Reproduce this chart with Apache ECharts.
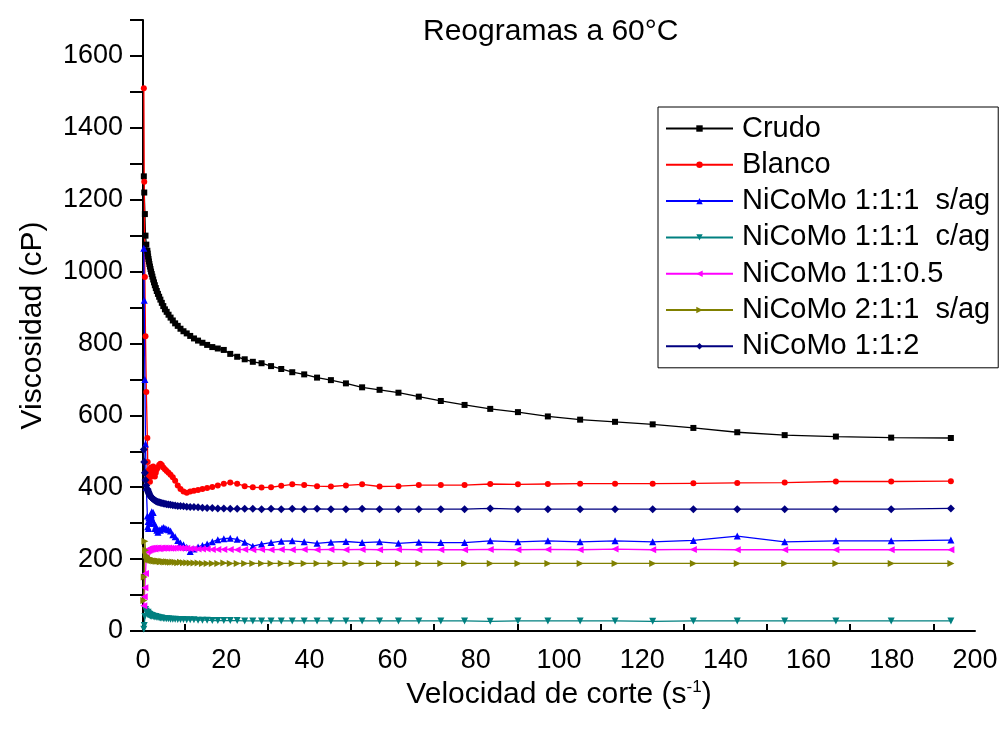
<!DOCTYPE html>
<html>
<head>
<meta charset="utf-8">
<script src="https://cdn.jsdelivr.net/npm/echarts@6/dist/echarts.min.js"></script>
<style>html,body{margin:0;padding:0;background:#fff}#c{width:1002px;height:731px}</style>
</head>
<body>
<div id="c"></div>
<script>
const FONT = "'Liberation Sans', Arial, sans-serif";
const titleText = 'Reogramas a 60°C';
const xName = 'Velocidad de corte (s{sup|-1})';
const yName = 'Viscosidad (cP)';
const seriesNames = ['Crudo', 'Blanco', 'NiCoMo 1:1:1  s/ag', 'NiCoMo 1:1:1  c/ag', 'NiCoMo 1:1:0.5', 'NiCoMo 2:1:1  s/ag', 'NiCoMo 1:1:2'];
const xLabelValues = [0, 20, 40, 60, 80, 100, 120, 140, 160, 180, 200];
const xTickValues = [10, 30, 50, 70, 90, 110, 130, 150, 170, 190];
const yLabelValues = [0, 200, 400, 600, 800, 1000, 1200, 1400, 1600];
const yTickValues = [0, 100, 200, 300, 400, 500, 600, 700, 800, 900, 1000, 1100, 1200, 1300, 1400, 1500, 1600, 1700];

const shearRate = [
  0.2, 0.3, 0.45, 0.6, 0.8, 1.05, 1.13, 1.23, 1.32, 1.43,
  1.54, 1.67, 1.80, 1.94, 2.10, 2.26, 2.45, 2.64, 2.85, 3.08,
  3.32, 3.59, 3.88, 4.18, 4.52, 4.88, 5.27, 5.69, 6.14, 6.63,
  7.16, 7.73, 8.35, 9.01, 9.73, 10.51, 11.35, 12.25, 13.23, 14.29,
  15.42, 16.66, 17.98, 19.42, 20.97, 22.64, 24.45, 26.40, 28.50, 30.78,
  33.23, 35.88, 38.75, 41.84, 45.17, 48.78, 52.67, 56.87, 61.41, 66.30,
  71.59, 77.30, 83.47, 90.13, 97.32, 105.08, 113.47, 122.52, 132.30, 142.85,
  154.25, 166.56, 179.85, 194.20
];
const crudo = [
  1265, 1220, 1160, 1100, 1075, 1058, 1050, 1042, 1035, 1028,
  1021, 1014, 1007, 1000, 993, 986, 978, 970, 962, 954,
  946, 938, 930, 922, 913, 904, 895, 888, 880, 872,
  864, 856, 849, 841, 834, 828, 821, 814, 808, 802,
  796, 790, 786, 782, 771, 763, 756, 749, 745, 737,
  729, 720, 714, 705, 698, 689, 678, 671, 663, 652,
  640, 629, 618, 609, 597, 588, 582, 575, 565, 553,
  545, 541, 538, 537
];
const blanco = [
  1510, 1250, 985, 820, 665, 537, 470, 440, 425, 448,
  430, 415, 440, 455, 430, 445, 458, 440, 430, 440,
  450, 455, 462, 465, 462, 455, 450, 445, 440, 435,
  428, 418, 405, 395, 388, 385, 388, 390, 392, 395,
  398, 401, 405, 410, 413, 410, 403, 400, 399, 400,
  404, 408, 406, 403, 402, 405, 408, 402, 403, 406,
  406, 406, 409, 408, 409, 410, 410, 410, 411, 412,
  413, 416, 416, 417
];
const nicomo111sag = [
  1065, 920, 700, 520, 400, 320, 290, 305, 285, 315,
  300, 320, 300, 325, 332, 310, 330, 300, 285, 292,
  280, 275, 282, 280, 285, 288, 286, 283, 282, 278,
  268, 262, 252, 245, 240, 233, 221, 228, 234, 238,
  242, 248, 254, 257, 258, 255, 247, 236, 242, 246,
  250, 251, 248, 244, 247, 249, 246, 248, 244, 247,
  246, 246, 251, 248, 251, 248, 251, 248, 252, 264,
  248, 251, 251, 253
];
const nicomo111cag = [
  5, 15, 40, 60, 55, 50, 46, 52, 45, 48,
  44, 46, 42, 44, 41, 43, 40, 41, 39, 40,
  38, 38, 37, 36, 36, 35, 35, 34, 34, 33,
  33, 33, 32, 32, 32, 31, 31, 31, 30, 30,
  30, 29, 29, 29, 29, 29, 28, 28, 28, 28,
  28, 28, 28, 28, 28, 28, 28, 28, 28, 28,
  28, 28, 27, 28, 28, 28, 28, 27, 28, 28,
  28, 28, 28, 28
];
const nicomo1105 = [
  70, 95, 120, 160, 205, 222, 226, 224, 228, 225,
  229, 226, 229, 227, 230, 228, 229, 231, 228, 230,
  230, 231, 229, 230, 231, 230, 231, 230, 231, 230,
  230, 231, 231, 230, 230, 230, 229, 229, 228, 228,
  228, 227, 227, 227, 227, 226, 227, 226, 227, 226,
  227, 226, 227, 226, 227, 226, 227, 226, 227, 226,
  226, 226, 227, 226, 227, 226, 228, 226, 227, 226,
  226, 226, 226, 226
];
const nicomo211sag = [
  85, 150, 250, 225, 210, 205, 203, 200, 204, 199,
  202, 198, 200, 197, 198, 196, 197, 195, 196, 195,
  194, 195, 194, 193, 194, 193, 192, 193, 192, 191,
  192, 191, 190, 191, 190, 190, 189, 189, 189, 188,
  188, 188, 188, 189, 188, 188, 188, 188, 188, 188,
  188, 188, 188, 188, 188, 188, 188, 188, 188, 188,
  188, 188, 188, 188, 188, 188, 188, 188, 188, 188,
  188, 188, 188, 188
];
const nicomo112 = [
  505, 470, 440, 420, 405, 395, 392, 389, 386, 383,
  380, 377, 375, 373, 371, 369, 367, 365, 364, 362,
  360, 359, 358, 357, 356, 355, 354, 353, 352, 351,
  350, 349, 348, 348, 347, 346, 345, 345, 344, 343,
  342, 342, 341, 341, 340, 340, 340, 340, 339, 340,
  339, 340, 339, 340, 339, 339, 340, 339, 339, 339,
  339, 339, 341, 339, 339, 339, 339, 339, 339, 339,
  339, 339, 339, 341
];

const seriesValues = [crudo, blanco, nicomo111sag, nicomo111cag, nicomo1105, nicomo211sag, nicomo112];
const styles = [
  { color: '#000000', symbol: 'rect', size: 6, rot: 0 },
  { color: '#ff0000', symbol: 'circle', size: 6, rot: 0 },
  { color: '#0000ff', symbol: 'triangle', size: 7, rot: 0 },
  { color: '#008080', symbol: 'triangle', size: 7, rot: 180 },
  { color: '#ff00ff', symbol: 'triangle', size: 7, rot: 90 },
  { color: '#808000', symbol: 'triangle', size: 7, rot: -90 },
  { color: '#000080', symbol: 'diamond', size: 8, rot: 0 }
];

const chart = echarts.init(document.getElementById('c'), null, { renderer: 'canvas' });
const series = seriesNames.map((name, i) => ({
  name: name,
  type: 'line',
  data: shearRate.map((x, j) => [x, seriesValues[i][j]]),
  symbol: styles[i].symbol,
  symbolSize: styles[i].size,
  symbolRotate: styles[i].rot,
  showAllSymbol: true,
  color: styles[i].color,
  lineStyle: { width: 1.3, color: styles[i].color },
  itemStyle: { color: styles[i].color },
  animation: false,
  emphasis: { disabled: true }
}));

chart.setOption({
  animation: false,
  backgroundColor: '#fff',
  textStyle: { fontFamily: FONT },
  title: {
    text: titleText,
    left: 418, top: 12,
    textStyle: { fontFamily: FONT, fontSize: 30, fontWeight: 'normal', color: '#000' }
  },
  grid: { left: 143, right: 27, top: 20, bottom: 100, containLabel: false, outerBoundsMode: 'none' },
  legend: {
    orient: 'vertical',
    left: 658, top: 107,
    padding: [7, 8, 7, 7],
    borderColor: '#000', borderWidth: 1,
    itemWidth: 67, itemHeight: 8, itemGap: 7.3,
    data: seriesNames,
    textStyle: { fontFamily: FONT, fontSize: 29, color: '#000', lineHeight: 29, padding: [0, 0, 0, 4] }
  },
  xAxis: {
    type: 'value', min: 0, max: 200,
    name: xName, nameLocation: 'middle', nameGap: 45,
    nameTextStyle: {
      fontFamily: FONT, fontSize: 30, color: '#000',
      rich: { sup: { fontFamily: FONT, fontSize: 17, color: '#000', verticalAlign: 'top', padding: [0, 0, 14, 0] } }
    },
    axisLine: { lineStyle: { color: '#000', width: 2 } },
    axisTick: { show: true, inside: true, length: 7, customValues: xTickValues, lineStyle: { color: '#000', width: 2 } },
    axisLabel: { customValues: xLabelValues, formatter: v => String(v), fontFamily: FONT, fontSize: 27, color: '#000', margin: 16 },
    splitLine: { show: false }
  },
  yAxis: {
    type: 'value', min: 0, max: 1700,
    name: yName, nameLocation: 'middle', nameGap: 95,
    nameTextStyle: { fontFamily: FONT, fontSize: 30, color: '#000' },
    axisLine: { lineStyle: { color: '#000', width: 2 } },
    axisTick: { show: true, inside: false, length: 13, customValues: yTickValues, lineStyle: { color: '#000', width: 2 } },
    axisLabel: { customValues: yLabelValues, formatter: v => String(v), fontFamily: FONT, fontSize: 27, color: '#000', margin: 20 },
    splitLine: { show: false }
  },
  series: series
});
</script>
</body>
</html>
